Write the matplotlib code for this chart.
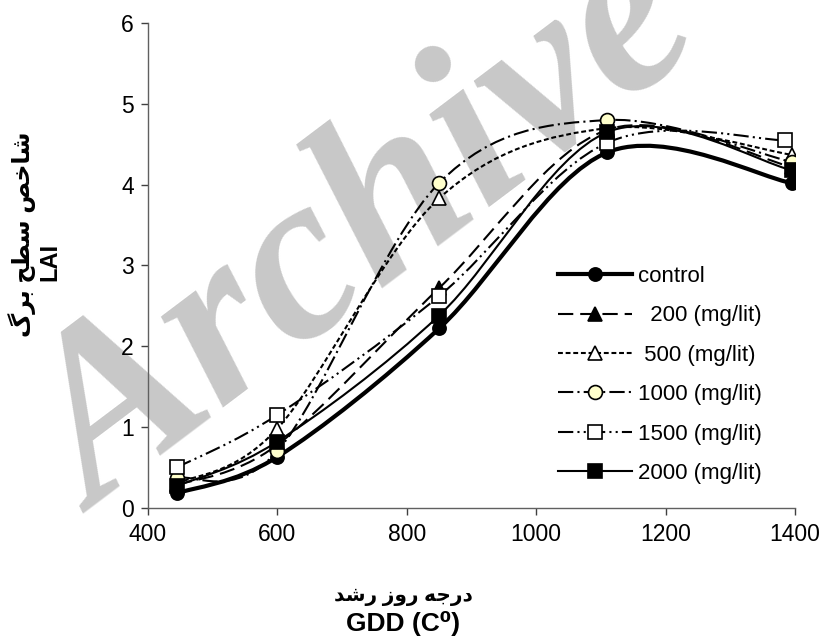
import numpy as np
import matplotlib
matplotlib.use("Agg")
import matplotlib.pyplot as plt
from matplotlib.path import Path
from matplotlib.patches import PathPatch
from matplotlib.lines import Line2D

plt.rcParams['font.family'] = ['Liberation Sans', 'DejaVu Sans']
plt.rcParams['lines.scale_dashes'] = False

# data
gdd = [445, 600, 850, 1110, 1395]
gdd_1500 = [445, 600, 850, 1110, 1385]
lai_control = [0.18, 0.63, 2.22, 4.40, 4.02]
lai_200 = [0.28, 0.78, 2.72, 4.68, 4.22]
lai_500 = [0.30, 0.98, 3.83, 4.70, 4.37]
lai_1000 = [0.37, 0.70, 4.02, 4.80, 4.28]
lai_1500 = [0.50, 1.15, 2.62, 4.52, 4.55]
lai_2000 = [0.27, 0.82, 2.38, 4.65, 4.18]

labels = ['control', '  200 (mg/lit)', ' 500 (mg/lit)', '1000 (mg/lit)',
          '1500 (mg/lit)', '2000 (mg/lit)']

# arabic labels, pre-shaped (presentation forms, visual order)
xlab_fa = '\uFEAA\uFEB7\uFEAD \uFEAF\uFEED\uFEAD \uFEEA\uFE9F\uFEAD\uFEA9'
ylab_fa = '\uFB92\uFEAE\uFE91 \uFEA2\uFEC4\uFEB3 \uFEBA\uFEA7\uFE8E\uFEB7'


def smooth_path(xs, ys):
    # bezier through the points, catmull-rom style (like excel smoothed lines)
    pts = np.column_stack([xs, ys]).astype(float)
    n = len(pts)
    verts = [pts[0]]
    codes = [Path.MOVETO]
    for i in range(n - 1):
        p0 = pts[max(i - 1, 0)]
        p1 = pts[i]
        p2 = pts[i + 1]
        p3 = pts[min(i + 2, n - 1)]
        c1 = p1 + (p2 - p0) / 6.0
        c2 = p2 - (p3 - p1) / 6.0
        verts += [c1, c2, p2]
        codes += [Path.CURVE4] * 3
    return Path(verts, codes)


fig = plt.figure(figsize=(8.26, 6.42), dpi=100)
ax = fig.add_axes([0.179, 0.209, 0.7835, 0.755])
ax.set_zorder(1)
ax.patch.set_alpha(0)

fig.text(0.445, 0.632, 'Archive', family='Liberation Serif', fontsize=172,
         fontweight='bold', fontstyle='italic', color='#c8c8c8',
         rotation=37, ha='center', va='center', zorder=0)

series = [
    (gdd, lai_control, 3.0, '-', 'o', 'black', 9.5),
    (gdd, lai_200, 1.5, (0, (11, 5)), '^', 'black', 9.5),
    (gdd, lai_500, 1.5, (0, (3.5, 2)), '^', 'white', 10),
    (gdd, lai_1000, 1.5, (0, (11, 3, 1.5, 3)), 'o', '#ffffcc', 10),
    (gdd_1500, lai_1500, 1.5, (0, (11, 3, 1.5, 3, 1.5, 3)), 's', 'white', 10),
    (gdd, lai_2000, 1.5, '-', 's', 'black', 9.5),
]

handles = []
for i, (xs, ys, lw, ls, mk, fc, ms) in enumerate(series):
    patch = PathPatch(smooth_path(xs, ys), fill=False, edgecolor='black',
                      lw=lw, linestyle=ls, zorder=2 + i * 0.1)
    ax.add_patch(patch)
    ax.plot(xs, ys, linestyle='none', marker=mk, markersize=ms,
            markerfacecolor=fc, markeredgecolor='black', markeredgewidth=1.2,
            zorder=3 + i * 0.1)
    handles.append(Line2D([], [], color='black', lw=lw, linestyle=ls,
                          marker=mk, markersize=ms, markerfacecolor=fc,
                          markeredgecolor='black', markeredgewidth=1.2))

ax.set_xlim(400, 1400)
ax.set_ylim(0, 6)
ax.set_xticks(range(400, 1401, 200))
ax.set_yticks(range(0, 7))
ax.tick_params(labelsize=16.5, direction='out', length=5, width=1,
               color='#404040')
ax.tick_params(axis='x', pad=6)
ax.tick_params(axis='y', pad=5)
ax.spines['top'].set_visible(False)
ax.spines['right'].set_visible(False)
for s in ['left', 'bottom']:
    ax.spines[s].set_color('#606060')
    ax.spines[s].set_linewidth(1)

ax.legend(handles, labels, loc='upper left', bbox_to_anchor=(0.617, 0.522),
          frameon=False, fontsize=16, handlelength=3.3, handletextpad=0.27,
          labelspacing=0.83, borderpad=0)

fig.text(403 / 826, 1 - 597 / 642, xlab_fa, fontsize=14.5, fontweight='bold',
         ha='center', va='center')
fig.text(403 / 826, 1 - 623 / 642, 'GDD (C\u2070)', fontsize=19,
         fontweight='bold', ha='center', va='center')
fig.text(22 / 826, 1 - 234 / 642, ylab_fa, fontsize=17, fontweight='bold',
         rotation=90, ha='center', va='center')
fig.text(50 / 826, 1 - 262 / 642, 'LAI', fontsize=17, fontweight='bold',
         rotation=90, ha='center', va='center')

fig.savefig('out.png', dpi=100)
